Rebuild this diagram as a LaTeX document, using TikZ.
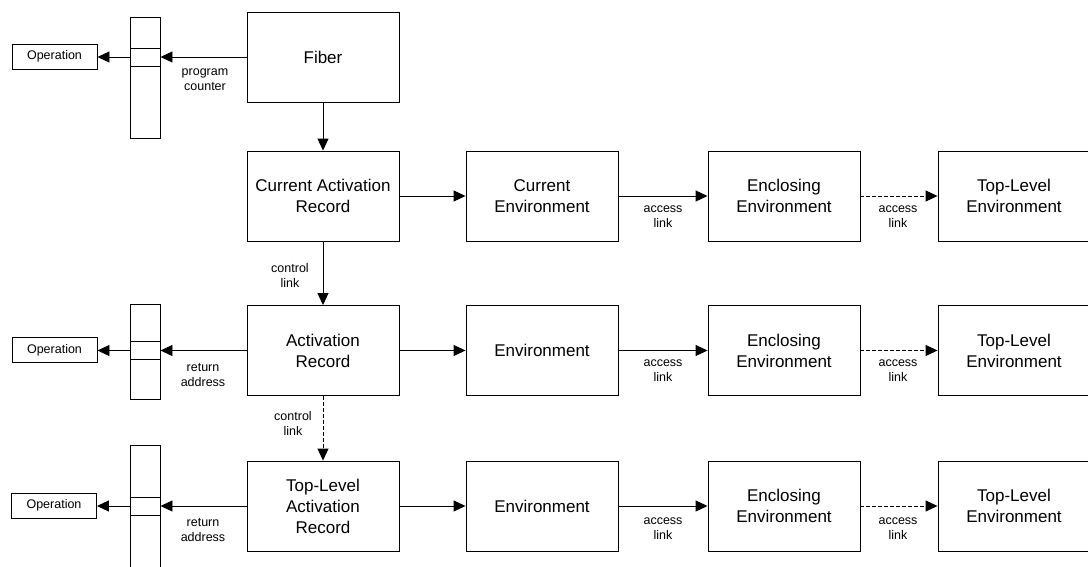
\documentclass[tikz,border=0pt]{standalone}
\usepackage{fontspec}
\setmainfont{Liberation Sans}
\usetikzlibrary{arrows.meta}
\tikzset{
  box/.style={draw=black, line width=0.9pt, minimum width=152pt, minimum height=90pt, inner sep=0pt, align=center, font=\fontsize{17}{21}\selectfont},
  opbox/.style={draw=black, line width=0.9pt, minimum width=85pt, minimum height=25pt, inner sep=0pt, text height=9pt, text depth=2.5pt, font=\fontsize{12.5}{15}\selectfont},
  cellbox/.style={draw=black, line width=0.9pt, minimum width=30pt, minimum height=18pt, inner sep=0pt},
  arr/.style={line width=0.9pt, -{Triangle[length=12pt,width=11pt]}},
  darr/.style={arr, dash pattern=on 4pt off 2pt},
  lbl/.style={align=center, inner sep=0pt, font=\fontsize{12.5}{15}\selectfont},
  col/.style={draw=black, line width=0.9pt}
}
\begin{document}
\begin{tikzpicture}[x=1pt,y=-1pt]
\useasboundingbox (0,0) rectangle (1088,566);
\clip (0,0) rectangle (1088,566);
% stacks
\draw[col] (130,17) rectangle (160,138);
\draw[col] (130,304) rectangle (160,399);
\draw[col] (130,445) rectangle (160,570);
\node[cellbox] (c1) at (145,57) {};
\node[cellbox] (c2) at (145,350.5) {};
\node[cellbox] (c3) at (145,506) {};
% operations
\node[opbox] (op1) at (54.5,56.5) {Operation};
\node[opbox] (op2) at (54.5,350) {Operation};
\node[opbox] (op3) at (54,505.5) {Operation};
% main boxes
\node[box] (fiber) at (323,57) {Fiber};
\node[box] (car) at (323,196) {Current Activation\\Record};
\node[box] (ce) at (542,196) {Current\\Environment};
\node[box] (ee1) at (784,196) {Enclosing\\Environment};
\node[box] (te1) at (1014,196) {Top-Level\\Environment};
\node[box] (ar) at (323,350.5) {Activation\\Record};
\node[box] (env2) at (542,350.5) {Environment};
\node[box] (ee2) at (784,350.5) {Enclosing\\Environment};
\node[box] (te2) at (1014,350.5) {Top-Level\\Environment};
\node[box] (tlar) at (323,506) {Top-Level\\Activation\\Record};
\node[box] (env3) at (542,506) {Environment};
\node[box] (ee3) at (784,506) {Enclosing\\Environment};
\node[box] (te3) at (1014,506) {Top-Level\\Environment};
% arrows
\draw[arr] (fiber.west |- c1.east) -- (c1.east);
\draw[arr] (c1.west) -- (op1.east |- c1.west);
\draw[arr] (ar.west) -- (c2.east);
\draw[arr] (c2.west) -- (op2.east |- c2.west);
\draw[arr] (tlar.west) -- (c3.east);
\draw[arr] (c3.west) -- (op3.east |- c3.west);
\draw[arr] (fiber.south) -- (car.north);
\draw[arr] (car.south) -- (ar.north);
\draw[darr] (ar.south) -- (tlar.north);
\draw[arr] (car.east) -- (ce.west);
\draw[arr] (ce.east) -- (ee1.west);
\draw[darr] (ee1.east) -- (te1.west);
\draw[arr] (ar.east) -- (env2.west);
\draw[arr] (env2.east) -- (ee2.west);
\draw[darr] (ee2.east) -- (te2.west);
\draw[arr] (tlar.east) -- (env3.west);
\draw[arr] (env3.east) -- (ee3.west);
\draw[darr] (ee3.east) -- (te3.west);
% labels
\node[lbl] (lpc) at (205,80) {program\\counter};
\node[lbl] (lcl1) at (290,275) {control\\link};
\node[lbl] (lcl2) at (293,423) {control\\link};
\node[lbl] (lra2) at (203,375) {return\\address};
\node[lbl] (lra3) at (203,530) {return\\address};
\node[lbl] (la11) at (663,216.5) {access\\link};
\node[lbl] (la12) at (898,216.5) {access\\link};
\node[lbl] (la21) at (663,371) {access\\link};
\node[lbl] (la22) at (898,371) {access\\link};
\node[lbl] (la31) at (663,529) {access\\link};
\node[lbl] (la32) at (898,529) {access\\link};
\end{tikzpicture}
\end{document}
